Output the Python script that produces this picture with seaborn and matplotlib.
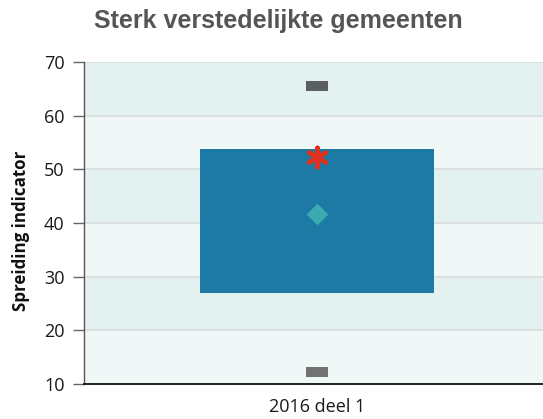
import matplotlib
matplotlib.use("Agg")
import matplotlib.pyplot as plt
from matplotlib.path import Path
import numpy as np
import pandas as pd
import seaborn as sns

# Spreiding per periode
periods = ["2016 deel 1"]
q1 = [27.0]
q3 = [53.8]
minimum = [12.3]
maximum = [65.6]
mean = [41.6]
score = [52.3]

yticks = [10, 20, 30, 40, 50, 60, 70]

sns.set_theme(style="white")
plt.rcParams["font.family"] = ["Open Sans", "DejaVu Sans"]

df = pd.DataFrame({
    "periode": periods,
    "q1": q1,
    "range": [b - a for a, b in zip(q1, q3)],
    "min": minimum,
    "max": maximum,
    "mean": mean,
    "score": score,
})

fig = plt.figure(figsize=(5.43, 4.19), dpi=100)
ax = fig.add_axes([84 / 543, 1 - 384 / 419, 466 / 543, 322 / 419])

# alternating horizontal bands
for i, (lo, hi) in enumerate(zip(yticks[:-1], yticks[1:])):
    color = "#f0f8f7" if i % 2 == 0 else "#e3f2f1"
    ax.axhspan(lo, hi, color=color, zorder=0, lw=0)
for y in yticks[1:]:
    ax.axhline(y, color="#d9dcdc", lw=1.2, zorder=0.5)

# interquartile box
sns.barplot(data=df, x="periode", y="range", bottom=df["q1"].tolist(),
            color="#1c7aa5", saturation=1, width=0.502, linewidth=0,
            ax=ax, zorder=2)

rect = Path([(-1, -0.5), (1, -0.5), (1, 0.5), (-1, 0.5), (-1, -0.5)],
            [Path.MOVETO, Path.LINETO, Path.LINETO, Path.LINETO, Path.CLOSEPOLY])

sns.stripplot(data=df, x="periode", y="max", jitter=False, marker=rect,
              size=15.5, color="#5b5f61", linewidth=0, ax=ax, zorder=3)
sns.stripplot(data=df, x="periode", y="min", jitter=False, marker=rect,
              size=15.5, color="#727272", linewidth=0, ax=ax, zorder=3)
sns.stripplot(data=df, x="periode", y="mean", jitter=False, marker="D",
              size=11, color="#3aabb0", linewidth=0, ax=ax, zorder=3)
sns.stripplot(data=df, x="periode", y="score", jitter=False, marker=(6, 2, 0),
              size=14, color="#e0311f", edgecolor="#e0311f", linewidth=3.2,
              ax=ax, zorder=4)

ax.set_xlim(-0.5, 0.5)
ax.set_ylim(10, 70)
ax.set_yticks(yticks)
ax.set_xlabel("")
ax.set_ylabel("Spreiding indicator", fontsize=12.2, fontweight="bold",
              color="#111111")
ax.yaxis.set_label_coords(-0.116, (384 - 231) / 322)
ax.tick_params(axis="y", length=8, width=1, color="#666666", labelsize=13,
               labelcolor="#1a1a1a", pad=6, left=True)
ax.tick_params(axis="x", length=0, labelsize=13, labelcolor="#1a1a1a", pad=10)

for s in ["top", "right"]:
    ax.spines[s].set_visible(False)
ax.spines["left"].set_color("#555555")
ax.spines["left"].set_linewidth(1)
ax.spines["bottom"].set_color("#111111")
ax.spines["bottom"].set_linewidth(1.3)

fig.text(278 / 543, 1 - 28 / 419, "Sterk verstedelijkte gemeenten",
         ha="center", va="baseline", fontsize=18, fontweight="bold",
         color="#555555", family=["Liberation Sans", "DejaVu Sans"])

fig.savefig("out.png", dpi=100)
